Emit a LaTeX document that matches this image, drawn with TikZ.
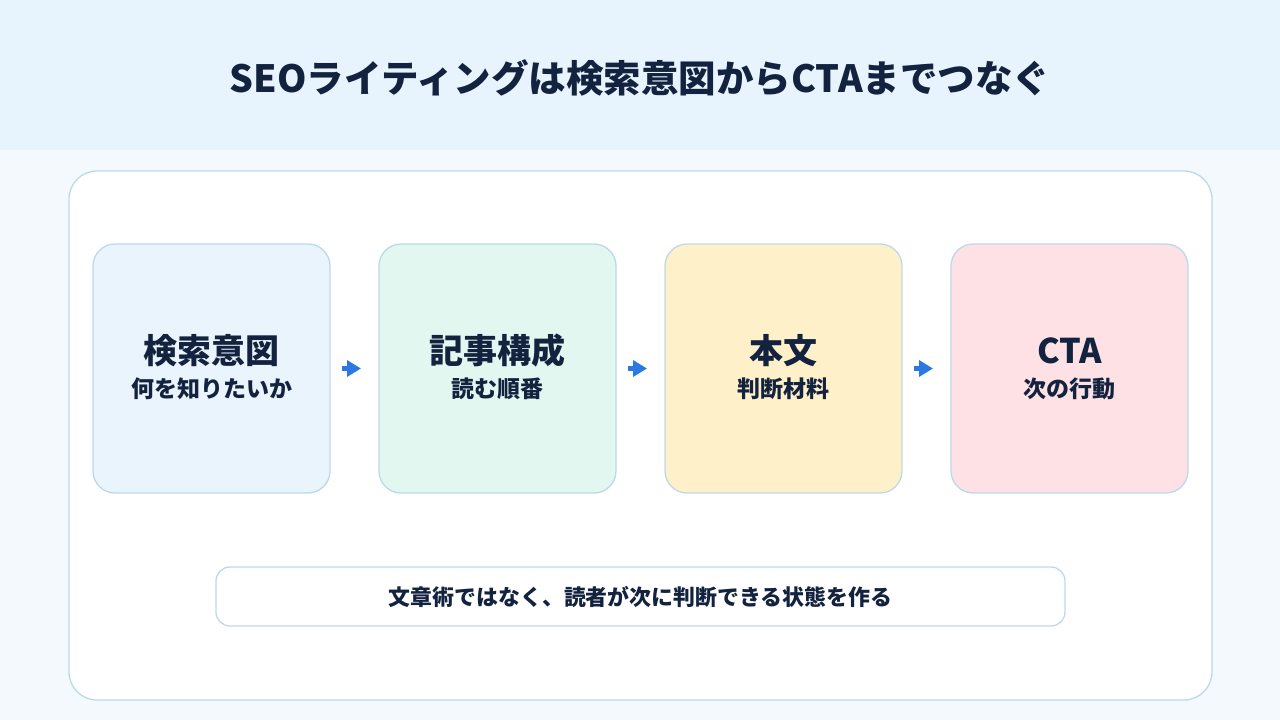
\documentclass[tikz,border=0pt]{standalone}
\usepackage{fontspec}
\setmainfont{Noto Sans CJK JP}
\usetikzlibrary{arrows.meta}
\definecolor{hdr}{HTML}{E8F4FD}
\definecolor{bgc}{HTML}{F4F9FD}
\definecolor{edge}{HTML}{BCD9EB}
\definecolor{ink}{HTML}{13233F}
\definecolor{fa}{HTML}{EAF4FD}
\definecolor{fb}{HTML}{E1F7EF}
\definecolor{fc}{HTML}{FEF1C9}
\definecolor{fd}{HTML}{FDE1E5}
\definecolor{arr}{HTML}{2B78E4}
\tikzset{
  stepbox/.style={draw=edge, line width=1.3pt, rounded corners=22pt, minimum width=237pt, minimum height=249pt, inner sep=0pt},
  ttl/.style={font=\bfseries\fontsize{34}{40}\selectfont, text=ink},
  sub/.style={font=\bfseries\fontsize{23}{27}\selectfont, text=ink},
  flow/.style={arr, line width=4.5pt, -{Triangle[length=14pt,width=16pt]}, shorten >=0pt}
}
\begin{document}
\begin{tikzpicture}[x=1pt,y=-1pt]
\useasboundingbox (0,0) rectangle (1280,720);
\fill[bgc] (0,0) rectangle (1280,720);
\fill[hdr] (0,0) rectangle (1280,150);
\node[font=\bfseries\fontsize{37.5}{44}\selectfont, text=ink] (title) at (640,78) {SEOライティングは検索意図からCTAまでつなぐ};
\node[draw=edge, fill=white, line width=1.3pt, rounded corners=28pt, minimum width=1143pt, minimum height=529pt, inner sep=0pt] (panel) at (640.5,435.5) {};
\node[stepbox, fill=fa] (b1) at (211.5,368.5) {};
\node[stepbox, fill=fb] (b2) at (497.5,368.5) {};
\node[stepbox, fill=fc] (b3) at (783.5,368.5) {};
\node[stepbox, fill=fd] (b4) at (1069.5,368.5) {};
\node[ttl] (t1) at (211.5,351) {検索意図};
\node[sub] (s1) at (211.5,389) {何を知りたいか};
\node[ttl] (t2) at (497.5,351) {記事構成};
\node[sub] (s2) at (497.5,389) {読む順番};
\node[ttl] (t3) at (783.5,351) {本文};
\node[sub] (s3) at (783.5,389) {判断材料};
\node[ttl] (t4) at (1069.5,351) {CTA};
\node[sub] (s4) at (1069.5,389) {次の行動};
\coordinate (a1s) at (342,368.5); \coordinate (a1e) at (361,368.5);
\coordinate (a2s) at (628,368.5); \coordinate (a2e) at (647,368.5);
\coordinate (a3s) at (914,368.5); \coordinate (a3e) at (933,368.5);
\draw[flow] (a1s) -- (a1e);
\draw[flow] (a2s) -- (a2e);
\draw[flow] (a3s) -- (a3e);
\node[draw=edge, fill=white, line width=1.3pt, rounded corners=14pt, minimum width=849pt, minimum height=59pt, inner sep=0pt, font=\bfseries\fontsize{21.9}{26}\selectfont, text=ink] (note) at (640.5,596.5) {文章術ではなく、読者が次に判断できる状態を作る};
\end{tikzpicture}
\end{document}
